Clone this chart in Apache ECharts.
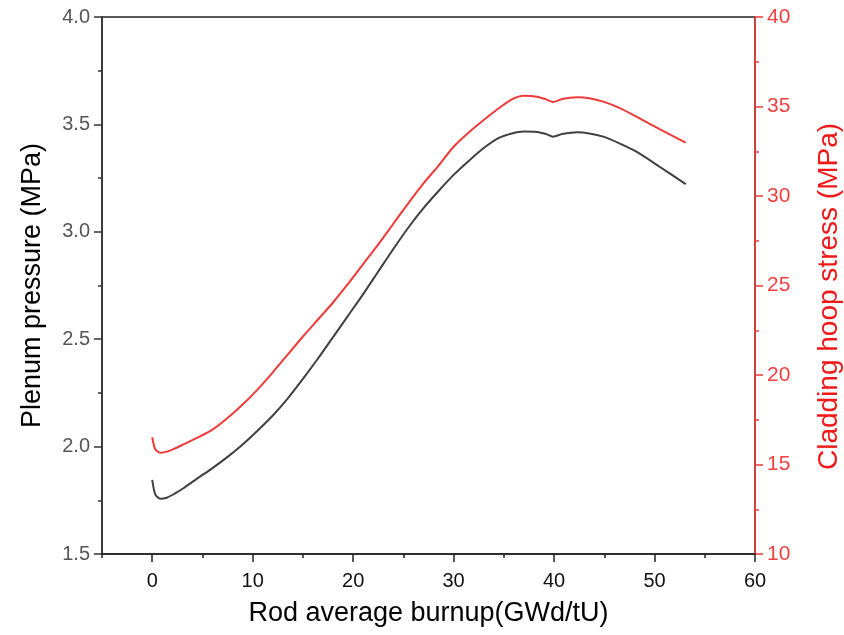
<!DOCTYPE html>
<html>
<head>
<meta charset="utf-8">
<script src="https://cdn.jsdelivr.net/npm/echarts@6/dist/echarts.min.js"></script>
<style>html,body{margin:0;padding:0;background:#fff;}#c{width:844px;height:635px;}</style>
</head>
<body>
<div id="c"></div>
<script>
const burnup         = [0, 0.3, 0.8, 1.5, 2.2, 3.1, 4.5, 6, 7.5, 9, 10.5, 12, 13.5, 15, 16.5, 18, 19.5, 21, 22.5, 24, 25.5, 27, 28.5, 30, 31.5, 33, 34.5, 35.8, 37, 38.3, 39.2, 39.9, 40.8, 42.3, 43.5, 44.9, 46.5, 48.2, 50.5, 53.1];
const plenumPressure = [1.845, 1.778, 1.757, 1.763, 1.78, 1.806, 1.852, 1.9, 1.952, 2.01, 2.075, 2.145, 2.225, 2.315, 2.41, 2.51, 2.61, 2.71, 2.815, 2.92, 3.02, 3.11, 3.19, 3.265, 3.33, 3.39, 3.437, 3.458, 3.467, 3.465, 3.455, 3.443, 3.455, 3.463, 3.458, 3.443, 3.412, 3.373, 3.303, 3.222];
const hoopStress     = [16.52, 15.85, 15.66, 15.72, 15.88, 16.12, 16.5, 16.95, 17.6, 18.35, 19.2, 20.15, 21.15, 22.15, 23.1, 24.05, 25.1, 26.2, 27.3, 28.45, 29.6, 30.7, 31.7, 32.75, 33.55, 34.25, 34.9, 35.4, 35.6, 35.55, 35.4, 35.25, 35.42, 35.51, 35.46, 35.27, 34.92, 34.43, 33.73, 32.98];
const xMajorTicks = [0, 10, 20, 30, 40, 50, 60];
const xMinorTicks = [-5, 5, 15, 25, 35, 45, 55];

const chart = echarts.init(document.getElementById('c'));
const font = 'Liberation Sans, Arial, sans-serif';
chart.setOption({
  animation: false,
  backgroundColor: '#fff',
  grid: {left: 102, right: 89, top: 17, bottom: 81, containLabel: false, outerBoundsMode: 'none', show: true, borderColor: '#222', borderWidth: 1.5, backgroundColor: 'transparent'},
  xAxis: [{
    type: 'value', min: -5, max: 60, position: 'bottom',
    name: 'Rod average burnup(GWd/tU)', nameLocation: 'middle', nameGap: 46,
    nameTextStyle: {fontFamily: font, fontSize: 27, color: '#000'},
    axisLine: {show: true, onZero: false, lineStyle: {color: '#222', width: 1.5}},
    axisTick: {show: true, inside: false, length: 8, customValues: xMajorTicks, lineStyle: {color: '#222', width: 1.5}},
    axisLabel: {show: true, customValues: xMajorTicks, fontFamily: font, fontSize: 20, color: '#111', margin: 17},
    splitLine: {show: false}
  }, {
    type: 'value', min: -5, max: 60, position: 'bottom', gridIndex: 0,
    axisLine: {show: false, onZero: false},
    axisTick: {show: true, length: 4, customValues: xMinorTicks, lineStyle: {color: '#222', width: 1.5}},
    axisLabel: {show: false},
    splitLine: {show: false}
  }],
  yAxis: [{
    type: 'value', min: 1.5, max: 4.0, interval: 0.5, position: 'left',
    name: 'Plenum pressure (MPa)', nameLocation: 'middle', nameGap: 56, nameRotate: 90,
    nameTextStyle: {fontFamily: font, fontSize: 27, color: '#000'},
    axisLine: {show: true, onZero: false, lineStyle: {color: '#333', width: 1.5}},
    axisTick: {show: true, length: 8, lineStyle: {color: '#333', width: 1.5}},
    minorTick: {show: true, splitNumber: 2, length: 4, lineStyle: {color: '#333', width: 1.5}},
    axisLabel: {fontFamily: font, fontSize: 20, color: '#555', margin: 12, formatter: v => v.toFixed(1)},
    splitLine: {show: false}
  }, {
    type: 'value', min: 10, max: 40, interval: 5, position: 'right',
    name: 'Cladding hoop stress (MPa)', nameLocation: 'middle', nameGap: 60, nameRotate: 90,
    nameTextStyle: {fontFamily: font, fontSize: 28, color: '#f01818', padding: [0, 22, 0, 0]},
    axisLine: {show: true, onZero: false, lineStyle: {color: '#f03a3a', width: 1.5}},
    axisTick: {show: true, length: 8, lineStyle: {color: '#f03a3a', width: 1.5}},
    minorTick: {show: true, splitNumber: 2, length: 4, lineStyle: {color: '#f03a3a', width: 1.5}},
    axisLabel: {fontFamily: font, fontSize: 21, color: '#f04040', margin: 12},
    splitLine: {show: false}
  }],
  series: [{
    type: 'line', name: 'Plenum pressure', xAxisIndex: 0, yAxisIndex: 0,
    data: burnup.map((x, i) => [x, plenumPressure[i]]),
    showSymbol: false, smooth: 0.25,
    lineStyle: {color: '#404040', width: 2}
  }, {
    type: 'line', name: 'Cladding hoop stress', xAxisIndex: 0, yAxisIndex: 1,
    data: burnup.map((x, i) => [x, hoopStress[i]]),
    showSymbol: false, smooth: 0.25,
    lineStyle: {color: '#f03a3a', width: 2}
  }]
});
</script>
</body>
</html>
